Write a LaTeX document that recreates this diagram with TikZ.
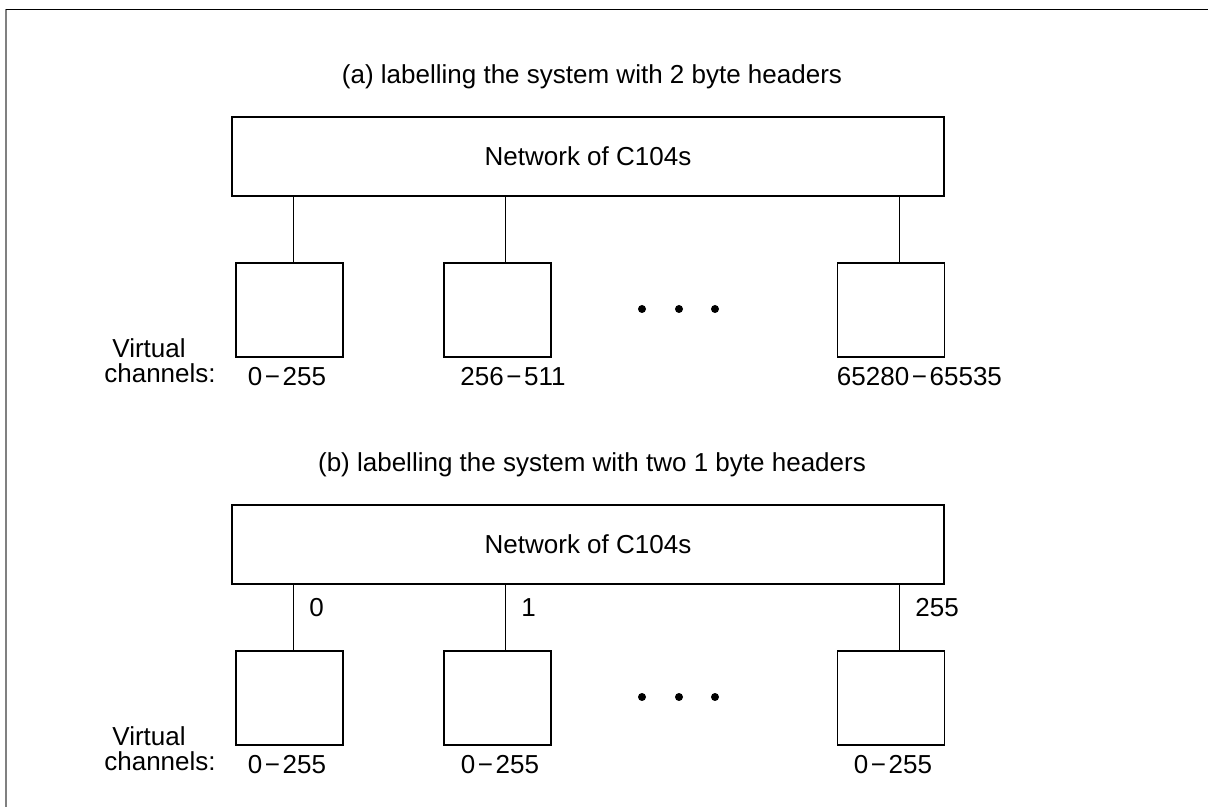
\documentclass[tikz,border=0pt]{standalone}
\usepackage{fontspec}
\setmainfont{Liberation Sans}
\usetikzlibrary{positioning}

\newcommand{\range}[2]{#1\kern0.1em−\kern0.1em#2}

\begin{document}
\begin{tikzpicture}[x=0.02cm,y=-0.02cm
    , every node/.style={inner sep=0pt,font=\fontsize{14.8}{17}\selectfont}
    , net/.style={draw,line width=1pt,minimum width=14.24cm,minimum height=1.58cm}
    , chip/.style={draw,line width=1pt,minimum width=2.14cm,minimum height=1.88cm}
    , link/.style={line width=0.5pt}
]
    \useasboundingbox (0,0) rectangle (1208,807);

    % frame
    \draw[gray,line width=0.8pt] (6,807) -- (6,9.5);
    \draw[line width=1.1pt] (6,9.5) -- (1208,9.5);

    \foreach \part/\dy/\title in {A/0/{(a) labelling the system with 2 byte headers},
                                  B/388/{(b) labelling the system with two 1 byte headers}}
    {
        \node (title\part) at (592,77+\dy) {\title};
        \node[net] (net\part) at (588,156.5+\dy) {Network of C104s};

        \foreach \x[count=\m] in {289.5,497.5,891}
            \node[chip] (chip\part\m) at (\x,310+\dy) {};

        \foreach \m/\off in {1/3.5,2/7.5,3/8}
        {
            \path (chip\part\m.north) ++(\off,0) coordinate (pin\part\m);
            \draw[link] (pin\part\m) -- (pin\part\m |- net\part.south);
        }

        % dots
        \foreach \x in {642,679,715}
            \fill (\x,309+\dy) circle[radius=0.08cm];

        \node (virt\part) at (149,348+\dy) {Virtual};
        \node (chan\part) at (160,373+\dy) {channels:};
    }

    % (a) channel ranges
    \node[below=0.18cm of chipA1,xshift=-0.05cm] (rangeA1) {\range{0}{255}};
    \node[below=0.18cm of chipA2,xshift=0.31cm] (rangeA2) {\range{256}{511}};
    \node[below=0.18cm of chipA3.south west,anchor=north west] (rangeA3) {\range{65280}{65535}};

    % (b) channel ranges
    \node[below=0.18cm of chipB1,xshift=-0.05cm] (rangeB1) {\range{0}{255}};
    \node[below=0.18cm of chipB2,xshift=0.05cm] (rangeB2) {\range{0}{255}};
    \node[below=0.18cm of chipB3,xshift=0.04cm] (rangeB3) {\range{0}{255}};

    % header bytes
    \foreach \m/\hdr in {1/0,2/1,3/255}
        \node[above right=0.66cm and 0.32cm of pinB\m] (hdr\m) {\hdr};
\end{tikzpicture}
\end{document}
